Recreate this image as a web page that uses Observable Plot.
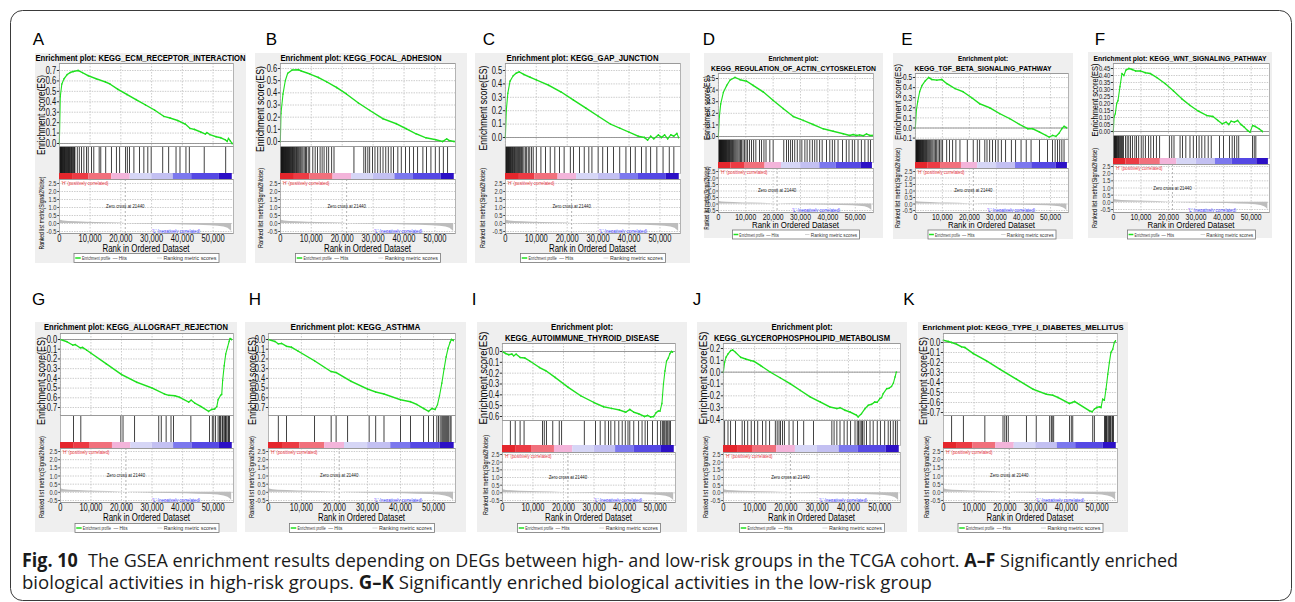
<!DOCTYPE html>
<html><head><meta charset="utf-8">
<script src="https://cdn.jsdelivr.net/npm/d3@7"></script>
<script src="https://cdn.jsdelivr.net/npm/@observablehq/plot@0.6"></script>
<style>
html,body{margin:0;padding:0;background:#fff;}
body{width:1295px;height:602px;position:relative;overflow:hidden;}
.box{position:absolute;background:#efefef;}
#overlay{position:absolute;left:0;top:0;pointer-events:none;}
</style></head><body>
<div id="bg"></div><div id="plots"></div>
<svg id="overlay" width="1295" height="602"></svg>
<script>
// ---------------- DATA ----------------
const panelIds = ["A","B","C","D","E","F","G","H","I","J","K"];
const pathways = ["KEGG_ECM_RECEPTOR_INTERACTION","KEGG_FOCAL_ADHESION","KEGG_GAP_JUNCTION",
  "KEGG_REGULATION_OF_ACTIN_CYTOSKELETON","KEGG_TGF_BETA_SIGNALING_PATHWAY","KEGG_WNT_SIGNALING_PATHWAY",
  "KEGG_ALLOGRAFT_REJECTION","KEGG_ASTHMA","KEGG_AUTOIMMUNE_THYROID_DISEASE",
  "KEGG_GLYCEROPHOSPHOLIPID_METABOLISM","KEGG_TYPE_I_DIABETES_MELLITUS"];
const twoLineTitles = ["D","E","I","J"];
const rankTicks = [0,10000,20000,30000,40000,50000];
const metricTicks = [2.5,2.0,1.5,1.0,0.5,0.0,-0.5];
const zeroCross = 21440;
const zeroCrossLabel = "Zero cross at 21440";
const posLabel = "'H' (positively correlated)";
const negLabel = "'L' (negatively correlated)";
const legendLabels = ["Enrichment profile","— Hits","Ranking metric scores"];
const esAxisTitle = "Enrichment score(ES)";
const metricAxisTitle = "Ranked list metric(Signal2Noise)";
const rankAxisTitle = "Rank in Ordered Dataset";

const esTicksA = [0,0.1,0.2,0.3,0.4,0.5,0.6,0.7];
const esTicksB = [0,0.1,0.2,0.3,0.4,0.5,0.6];
const esTicksC = [0,0.1,0.2,0.3,0.4,0.5];
const esTicksD = [0,0.1,0.2,0.3,0.4,0.5];
const esTicksE = [-0.1,0,0.1,0.2,0.3,0.4,0.5];
const esTicksF = [0,0.05,0.1,0.15,0.2,0.25,0.3,0.35,0.4,0.45];
const esTicksG = [-0.7,-0.6,-0.5,-0.4,-0.3,-0.2,-0.1,0];
const esTicksH = [-0.7,-0.6,-0.5,-0.4,-0.3,-0.2,-0.1,0];
const esTicksI = [-0.6,-0.5,-0.4,-0.3,-0.2,-0.1,0];
const esTicksJ = [-0.4,-0.3,-0.2,-0.1,0,0.1,0.2];
const esTicksK = [-0.7,-0.6,-0.5,-0.4,-0.3,-0.2,-0.1,0];

// running enrichment score curves [rank, ES]
const esA = [[0,0],[300,0.45],[800,0.57],[1500,0.62],[2500,0.66],[3500,0.68],[4500,0.69],[6100,0.70],[7500,0.68],[9400,0.65],[12000,0.62],[15000,0.59],[16500,0.57],[19000,0.52],[22000,0.47],[25000,0.42],[28000,0.37],[31000,0.32],[34000,0.26],[36000,0.245],[38500,0.22],[41000,0.185],[42500,0.145],[44000,0.135],[46000,0.11],[47500,0.09],[48000,0.105],[49000,0.085],[51000,0.065],[52500,0.055],[54000,0.035],[54600,0.02],[55000,0.05],[55600,0.025],[56200,0.0]];
const esB = [[0,0],[200,0.23],[850,0.39],[1600,0.5],[2350,0.56],[3750,0.587],[5900,0.59],[6750,0.58],[9600,0.554],[12300,0.526],[15000,0.49],[18200,0.444],[21400,0.39],[25200,0.317],[28900,0.256],[33200,0.187],[37500,0.146],[40700,0.105],[43900,0.063],[47100,0.03],[50300,0.014],[52500,0.0],[53800,0.022],[54600,0.008],[56200,0.0]];
const esC = [[0,0],[300,0.2],[800,0.33],[1500,0.42],[2500,0.46],[3500,0.48],[4500,0.49],[6000,0.47],[8000,0.45],[10000,0.43],[14000,0.39],[18000,0.34],[22000,0.28],[26000,0.22],[30000,0.16],[34000,0.1],[37000,0.07],[40000,0.04],[43000,0.01],[45000,0.0],[46000,-0.02],[47000,0.01],[48000,-0.01],[49500,0.02],[50500,0.0],[51500,0.02],[52500,-0.01],[53500,0.02],[54500,0.01],[55500,0.03],[56000,0.0]];
const esD = [[0,0],[365,0.17],[850,0.28],[1820,0.38],[3040,0.44],[4250,0.486],[6075,0.51],[7900,0.49],[10300,0.477],[12750,0.44],[16400,0.384],[20000,0.312],[23700,0.24],[27300,0.173],[31000,0.139],[34600,0.104],[38300,0.066],[41900,0.046],[45600,0.023],[48000,0.009],[49200,0.017],[50400,0.009],[51600,0.014],[52900,0.006],[54100,0.023],[55300,0.009],[56200,0.009]];
const esE = [[0,0],[370,0.175],[856,0.26],[1590,0.36],[2450,0.42],[3670,0.467],[4900,0.5],[6100,0.48],[7950,0.474],[9780,0.48],[11600,0.44],[14700,0.39],[17700,0.358],[20800,0.30],[23800,0.24],[27500,0.2],[31200,0.142],[34900,0.093],[38500,0.036],[41600,-0.007],[43400,-0.007],[45900,-0.04],[48300,-0.073],[49500,-0.09],[50800,-0.073],[52000,-0.083],[53200,-0.05],[54200,-0.007],[55000,0.017],[55900,0.003]];
const esF = [[0,0],[240,0.103],[720,0.127],[1200,0.2],[1680,0.22],[2400,0.32],[3110,0.414],[3830,0.40],[4550,0.438],[5630,0.45],[6820,0.443],[8020,0.433],[9800,0.433],[11600,0.42],[13400,0.414],[15800,0.385],[18800,0.342],[21800,0.29],[24800,0.234],[27800,0.187],[30800,0.146],[33800,0.115],[36100,0.108],[37900,0.079],[39500,0.055],[40900,0.067],[41900,0.05],[42700,0.074],[43900,0.067],[45100,0.079],[46300,0.05],[47500,0.031],[48700,0.007],[49600,-0.005],[50500,0.043],[51500,0.036],[52900,0.019],[54100,0.0]];
const esG = [[0,0],[2200,-0.024],[4100,-0.058],[4900,-0.052],[6500,-0.086],[7300,-0.082],[8600,-0.11],[10000,-0.14],[15000,-0.25],[20000,-0.36],[25000,-0.44],[30000,-0.50],[34000,-0.56],[35500,-0.575],[37500,-0.58],[39000,-0.595],[42000,-0.645],[42800,-0.625],[44000,-0.655],[46000,-0.69],[48500,-0.74],[49500,-0.72],[50500,-0.715],[51200,-0.69],[51600,-0.62],[52400,-0.575],[52800,-0.565],[53100,-0.42],[53600,-0.27],[54100,-0.15],[54700,-0.08],[55200,-0.02],[55500,0.01],[56000,0.0]];
const esH = [[0,0],[2000,-0.02],[3000,-0.045],[4000,-0.04],[5500,-0.07],[7000,-0.08],[9000,-0.12],[14000,-0.22],[19000,-0.33],[20500,-0.34],[25000,-0.43],[30000,-0.51],[32500,-0.54],[35000,-0.56],[40000,-0.62],[43000,-0.64],[45000,-0.67],[47000,-0.71],[48500,-0.74],[49500,-0.71],[50500,-0.72],[51200,-0.67],[51800,-0.58],[52500,-0.45],[53200,-0.3],[53800,-0.18],[54400,-0.09],[55000,-0.03],[55400,0.0],[56000,-0.01]];
const esI = [[0,0],[1050,-0.018],[2100,-0.03],[3150,-0.024],[3700,-0.04],[4500,-0.024],[5800,-0.055],[7350,-0.06],[8900,-0.086],[12100,-0.147],[14200,-0.177],[17300,-0.24],[21500,-0.33],[25700,-0.41],[29900,-0.47],[33100,-0.51],[35700,-0.525],[38300,-0.54],[40400,-0.56],[41700,-0.535],[43000,-0.56],[44600,-0.575],[46500,-0.6],[47500,-0.59],[48500,-0.605],[49500,-0.6],[50300,-0.565],[51000,-0.55],[51600,-0.55],[52200,-0.48],[52700,-0.3],[53200,-0.18],[53700,-0.09],[54300,-0.06],[54800,-0.02],[55300,0.0],[55700,-0.005]];
const esJ = [[0,0],[420,0.084],[850,0.126],[1480,0.154],[2330,0.182],[2970,0.188],[3900,0.168],[5500,0.126],[7100,0.112],[8700,0.098],[9750,0.092],[11900,0.056],[15000,0.0],[18200,-0.048],[21400,-0.098],[24600,-0.154],[27800,-0.21],[31000,-0.252],[34100,-0.294],[36300,-0.308],[37300,-0.3],[38900,-0.322],[40500,-0.336],[42600,-0.364],[43100,-0.378],[44200,-0.35],[45300,-0.308],[46300,-0.28],[47400,-0.272],[48400,-0.252],[49200,-0.255],[50000,-0.224],[50600,-0.215],[51100,-0.182],[52200,-0.14],[53000,-0.135],[53800,-0.12],[54400,-0.09],[54900,-0.04],[55300,0.0]];
const esK = [[0,0.023],[1600,0.01],[2700,0.0],[4300,-0.017],[5900,-0.043],[7000,-0.05],[9700,-0.11],[14000,-0.183],[18400,-0.267],[23800,-0.367],[29200,-0.467],[33500,-0.517],[35600,-0.527],[37300,-0.55],[41000,-0.61],[41900,-0.6],[42700,-0.59],[47500,-0.683],[48400,-0.693],[49100,-0.667],[49900,-0.65],[50800,-0.643],[51300,-0.65],[51800,-0.567],[52400,-0.577],[52900,-0.467],[53500,-0.317],[54000,-0.2],[54500,-0.1],[55100,-0.067],[55600,0.0],[56000,0.017]];

// gene-set hit positions (rank)
const hitsA = [60,180,300,420,560,690,800,980,1120,1260,1430,1580,1720,1900,2080,2230,2410,2600,2790,2950,3150,3320,3560,3780,3950,4180,4400,4650,4900,5070,5820,6470,7220,7980,8840,9380,10460,11210,12940,13480,15090,16920,18540,19620,21560,22100,22850,24250,26090,27490,28780,29860,33630,35570,37950,39240,41180,42260,47110,54120];
const hitsB = [40,150,260,380,490,620,730,870,990,1130,1260,1400,1550,1690,1840,1980,2150,2300,2470,2650,2800,2980,3150,3340,3520,3700,3900,4080,4300,4520,4750,5000,5230,5480,5750,6000,6300,6600,6950,7300,7700,8100,8500,9000,9500,10500,11250,12000,12850,13500,14140,15000,15640,16600,17350,23800,27000,27600,28300,28900,29800,30600,31500,32300,33200,34100,34900,35800,36600,38000,39100,40500,41800,43100,44400,46100,47300,48700,50100,51400,52700,54100];
const hitsC = [80,200,330,470,600,760,900,1050,1210,1380,1560,1720,1900,2100,2300,2520,2740,2960,3200,3450,3700,3980,4250,4550,4850,5200,5600,6000,6450,6900,7400,7900,8500,9000,10000,11500,13000,14500,16000,17500,19000,21000,22000,24000,25500,27000,28000,30000,31500,33000,35000,37000,39000,40500,42000,44000,45500,47000,49000,51000,53000,54500];
const hitsD = [50,160,280,400,520,650,780,900,1040,1180,1320,1470,1620,1780,1940,2100,2280,2460,2640,2830,3020,3220,3430,3650,3870,4100,4340,4600,4870,5150,5450,5760,6100,6450,6820,7200,7620,8050,8500,9000,9500,10100,10700,11400,12100,12900,13700,15000,15800,16650,17400,18800,20000,23900,24900,25600,26400,27100,27900,28800,29800,30500,31600,32400,33400,34300,35200,36000,37000,37900,39500,40700,41600,42500,43700,45300,46700,47700,48900,49800,51000,52200,53500,54700,55600];
const hitsE = [40,140,250,370,490,610,740,870,1010,1160,1310,1470,1640,1820,2000,2200,2400,2610,2830,3060,3300,3550,3810,4080,4370,4670,4990,5330,5700,6100,6500,6950,7400,7900,8400,8950,9500,10100,11600,12600,13800,15000,16500,19200,21400,22900,23800,25700,26500,27500,28500,29700,30600,31800,33400,35500,37100,39100,41000,42800,45900,48900,50700,51700,52600,53400,54200,55000];
const hitsF = [60,200,350,500,660,820,1000,1180,1380,1600,1830,2080,2350,2650,2950,3300,3700,4400,5000,5600,6200,6900,7800,8400,9200,10100,10800,11600,12800,13600,14600,15600,16800,20300,21200,22000,24200,25100,26300,27800,29000,30200,31100,32100,33200,34400,35500,38500,40000,42100,43100,43900,44800,45500,50500,51100,51700];
const hitsG = [4300,6700,19800,20500,24300,32200,33000,34600,36200,37000,42700,48800,49700,50200,50800,51600,52100,52400,52900,53100,53500,53800,54000,54200,54500,54900,55100,55300];
const hitsH = [3000,5500,14000,19000,20500,24000,30500,32500,35000,40000,43000,47000,48500,50000,51000,51500,52000,52500,52800,53100,53400,53700,54000,54300,54600,55000,55300];
const hitsI = [2600,4200,5800,7100,13100,13700,14400,16500,18600,19400,26800,30500,32000,33600,34700,35500,36800,38100,39200,40200,41100,41700,43000,44600,45700,46700,47500,49100,50700,51800,52300,52600,52900,53200,53600,53900,54200,54600,55000];
const hitsJ = [420,1480,2330,3900,6000,6800,7800,8900,10000,11000,12500,13600,14800,16600,17200,17800,18300,18900,19500,21000,22300,23700,25700,28800,34700,35400,36300,37300,38600,39600,40700,42100,42800,43200,43700,44100,44500,45000,45800,46900,47900,49200,50200,51600,52700,53400,54300,55000,55600];
const hitsK = [2700,6500,13500,19400,20000,20500,21100,27000,30200,34600,35100,35400,35900,41000,41600,42100,48600,49100,52400,52700,52900,53100,53500,53800,54000,54300,54500,54900,55100,55300];

// ranked list metric (shared by all panels) [rank, signal2noise]
const rankedMetric = [[0,0.26],[300,0.2],[1300,0.16],[3000,0.13],[5600,0.11],[9000,0.085],[12000,0.07],[16000,0.05],[19700,0.025],[21440,0],[23200,-0.015],[26000,-0.03],[30400,-0.05],[36000,-0.07],[41000,-0.09],[45000,-0.11],[49000,-0.14],[51600,-0.17],[53500,-0.22],[54800,-0.3],[55500,-0.4],[56000,-0.5]];
// colour bar segment boundaries (rank)
const barBreaks = [0,4500,9500,17000,23000,30000,37000,43000,52000,56200];

const esCurves = [esA,esB,esC,esD,esE,esF,esG,esH,esI,esJ,esK];
const hitLists = [hitsA,hitsB,hitsC,hitsD,hitsE,hitsF,hitsG,hitsH,hitsI,hitsJ,hitsK];
const esTickLists = [esTicksA,esTicksB,esTicksC,esTicksD,esTicksE,esTicksF,esTicksG,esTicksH,esTicksI,esTicksJ,esTicksK];

// ---------------- STYLE / LAYOUT ----------------
const barColors = ["#e4262c","#ec3b44","#f1707c","#f3b4da","#d6d6f6","#c3c0f2","#7c78ee","#5548e4","#2c10c6"];
const SANS = "'Liberation Sans', Arial, Helvetica, sans-serif";
const GREEN = "#1fe01f";
const S = 0.72;          // horizontal squash of the plot graphics
const XMAX = 56600;
const ML = 28, MR = 1;   // real px margins of each plot svg

const rowA = {es:[63,146], hits:[146,173], cbar:[173,179], met:[179,233], metRef:[[2.5,183],[-0.5,231]], axisY:248, legendTop:253, xf:10.5, af:10.5};
const rowD = {es:[73,139], hits:[139,162], cbar:[162,168], met:[168,212], metRef:[[2.5,171],[-0.5,210]], axisY:225, legendTop:229.5, xf:9.5, af:9};
const rowG = {es:[333,415], hits:[415,442], cbar:[442,448], met:[448,502], metRef:[[2.5,451],[-0.5,500]], axisY:517, legendTop:523, xf:10.5, af:10.5};
const rowI = {es:[343,420], hits:[420,445], cbar:[445,452], met:[452,502], metRef:[[2.5,454],[-0.5,500]], axisY:517, legendTop:523, xf:10.5, af:10.5};
const layout = {
 A:{...rowA, box:[35,53,211,210], letter:[38.5,39], px:[59,233], titleY:[58], titleLen:[210], ts:8.5, esRef:[[0.7,70],[0,143]], legendW:145, yT:[41,115,80,11], mT:[41,213,73], tf:10.5},
 B:{...rowA, box:[255,53,212,210], letter:[271.5,39], px:[280,455], titleY:[58], titleLen:[161], ts:8.5, esRef:[[0.6,68],[0,141]], legendW:145, yT:[260,109,86,11], mT:[260,208,80], tf:10.5},
 C:{...rowA, box:[475,53,215,210], letter:[489,39], px:[505,680], titleY:[58], titleLen:[152], ts:8.5, esRef:[[0.5,70],[0,137]], legendW:145, yT:[483,108,85,11], mT:[482,208,80], tf:10.5},
 D:{...rowD, box:[704,53,179,185], letter:[709,39], px:[718,873], titleY:[58,68], titleLen:[50,165], ts:8, esRef:[[0.5,78],[0,136]], legendW:127, yT:[706.5,108,64,8.5], mT:[706.5,198,63], tf:8.5},
 E:{...rowD, box:[893,53,180,186], letter:[907,39], px:[915,1068], titleY:[58,68], titleLen:[50,137], ts:8, esRef:[[0.5,77],[-0.1,137.6]], legendW:128, yT:[897,102,76,9.5], mT:[897,188,80], tf:9},
 F:{...rowD, es:[63,135], hits:[135,158], cbar:[158,164], met:[164,212], metRef:[[2.5,166],[-0.5,209]], box:[1088,52,184,186], letter:[1100,39], px:[1113,1269], titleY:[58], titleLen:[173], ts:7, esRef:[[0.45,68],[0,131]], legendW:128, yT:[1094,100,73,9.5], mT:[1094,188,80], tf:8},
 G:{...rowG, box:[35,322,202,210], letter:[38.5,299], px:[60,233], titleY:[327], titleLen:[184], ts:8.5, esRef:[[0,339],[-0.7,407]], legendW:144, yT:[41,381,88,11], mT:[41,477,82], tf:10.5},
 H:{...rowG, box:[245,322,221,210], letter:[255,299], px:[268,455], titleY:[327], titleLen:[130], ts:8.5, esRef:[[0,339],[-0.7,407]], legendW:145, yT:[252,381,88,11], mT:[251,477,82], tf:10.5},
 I:{...rowI, box:[477,322,210,210], letter:[474,299], px:[502,675], titleY:[327,338], titleLen:[62,154], ts:8.5, esRef:[[0,351],[-0.6,416]], legendW:143, yT:[483,378,93,11], mT:[485,475,80], tf:10.5},
 J:{...rowI, box:[697,322,210,210], letter:[697,299], px:[723,900], titleY:[327,338], titleLen:[61,176], ts:8.5, esRef:[[0.2,348],[-0.4,419]], legendW:145, yT:[703,378,93,11], mT:[705,477,82], tf:10.5},
 K:{...rowG, box:[918,322,210,210], letter:[909,299], px:[943,1117], titleY:[327], titleLen:[201], ts:8, esRef:[[0,342],[-0.7,412]], legendW:145, yT:[923,381,88,11], mT:[926,477,82], tf:10.5}
};

// ---------------- BUILD ----------------
const bgEl = document.getElementById("bg");
const plotsEl = document.getElementById("plots");
const ov = d3.select("#overlay");

function domainFrom(ref, top, bot) {
  const [[v1, y1], [v2, y2]] = ref;
  const k = (y2 - y1) / (v2 - v1);
  return [v1 + (bot - y1) / k, v1 + (top - y1) / k];
}
function mount(svg, left, top, w, h) {
  svg.setAttribute("preserveAspectRatio", "none");
  svg.setAttribute("width", w);
  svg.setAttribute("height", h);
  Object.assign(svg.style, {position:"absolute", left:left+"px", top:top+"px", width:w+"px", height:h+"px",
    maxWidth:"none", overflow:"visible", background:"transparent"});
  plotsEl.appendChild(svg);
}
function baseOpts(L, h) {
  const w = L.px[1] - L.px[0] + ML + MR;
  return {w, opts:{width:w/S, height:h, marginLeft:ML/S, marginRight:MR/S, marginTop:0, marginBottom:0,
    style:{background:"transparent", overflow:"visible", fontFamily:SANS, color:"#111"}}};
}
function txt(str, x, y, o = {}) {
  const t = ov.append("text").attr("x", x).attr("y", y).text(str)
    .attr("font-size", o.size || 10).attr("font-family", o.family || SANS)
    .attr("text-anchor", o.anchor || "middle").attr("dominant-baseline", o.baseline || "central")
    .attr("fill", o.color || "#000");
  if (o.weight) t.attr("font-weight", o.weight);
  if (o.len) t.attr("textLength", o.len).attr("lengthAdjust", "spacingAndGlyphs");
  if (o.rotate) t.attr("transform", `rotate(${o.rotate},${x},${y})`);
  return t;
}

const segs = d3.pairs(barBreaks).map(([a, b], i) => ({a, b, c: barColors[i]}));

panelIds.forEach((id, i) => {
  const L = layout[id];
  const es = esCurves[i], hits = hitLists[i], esT = esTickLists[i];
  const fmt = id === "F" ? (d => d.toFixed(2)) : (d => d.toFixed(1));

  // panel background
  const box = document.createElement("div");
  box.className = "box";
  Object.assign(box.style, {left:L.box[0]+"px", top:L.box[1]+"px", width:L.box[2]+"px", height:L.box[3]+"px"});
  bgEl.appendChild(box);

  // ES plot
  const esHgt = L.es[1] - L.es[0];
  let b = baseOpts(L, esHgt);
  const esSvg = Plot.plot({...b.opts,
    x:{domain:[0, XMAX], axis:null},
    y:{domain:domainFrom(L.esRef, L.es[0], L.es[1]), axis:null},
    marks:[
      Plot.frame({fill:"#fff", stroke:"none"}),
      Plot.gridX(rankTicks, {stroke:"#c4c4c4", strokeOpacity:1, strokeDasharray:"1.5,1.5"}),
      Plot.gridY(esT, {stroke:"#c4c4c4", strokeOpacity:1, strokeDasharray:"2,1.5"}),
      Plot.ruleY([0], {stroke:"#8c8c8c", strokeWidth:1}),
      Plot.line(es, {x:d => d[0], y:d => d[1], stroke:GREEN, strokeWidth:1.5}),
      Plot.dot(es, {x:d => d[0], y:d => d[1], r:0.9, fill:GREEN, stroke:null}),
      Plot.axisY(esT, {tickFormat:fmt, tickSize:3, tickPadding:1.5, fontSize:L.tf}),
      Plot.frame({stroke:"#9a9a9a"})
    ]});
  mount(esSvg, L.px[0] - ML, L.es[0], b.w, esHgt);

  // hits
  const hHgt = L.hits[1] - L.hits[0];
  b = baseOpts(L, hHgt);
  const hitSvg = Plot.plot({...b.opts,
    x:{domain:[0, XMAX], axis:null},
    marks:[
      Plot.frame({fill:"#fff", stroke:"none"}),
      Plot.ruleX(hits, {x:d => d, stroke:"#111", strokeWidth:1.1}),
      Plot.frame({stroke:"#9a9a9a"})
    ]});
  mount(hitSvg, L.px[0] - ML, L.hits[0], b.w, hHgt);

  // colour bar
  const cHgt = L.cbar[1] - L.cbar[0];
  b = baseOpts(L, cHgt);
  const barSvg = Plot.plot({...b.opts,
    x:{domain:[0, XMAX], axis:null},
    color:{type:"identity"},
    marks:[
      Plot.frame({fill:"#fff", stroke:"none"}),
      Plot.barX(segs, {x1:"a", x2:"b", fill:"c"})
    ]});
  mount(barSvg, L.px[0] - ML, L.cbar[0], b.w, cHgt);

  // ranked metric
  const MB = 14;
  const mHgt = L.met[1] - L.met[0];
  b = baseOpts(L, mHgt + MB);
  const metSvg = Plot.plot({...b.opts, marginBottom:MB,
    x:{domain:[0, XMAX], axis:null},
    y:{domain:domainFrom(L.metRef, L.met[0], L.met[1]), axis:null},
    marks:[
      Plot.frame({fill:"#fff", stroke:"none"}),
      Plot.gridX(rankTicks, {stroke:"#c4c4c4", strokeOpacity:1, strokeDasharray:"1.5,1.5"}),
      Plot.gridY(metricTicks, {stroke:"#c4c4c4", strokeOpacity:1, strokeDasharray:"2,1.5"}),
      Plot.areaY(rankedMetric, {x:d => d[0], y:d => d[1], fill:"#bdbdbd"}),
      Plot.ruleX([zeroCross], {stroke:"#a8a8a8", strokeDasharray:"2,2"}),
      Plot.text([zeroCrossLabel], {x:[zeroCross], text:d => d, frameAnchor:"middle", fontSize:6, fill:"#222"}),
      Plot.text([posLabel], {text:d => d, frameAnchor:"top-left", dx:3, dy:1, fontSize:6, fill:"#e8323c"}),
      Plot.text([negLabel], {text:d => d, frameAnchor:"bottom-right", dx:-46, dy:-1, fontSize:6, fill:"#3a3aff"}),
      Plot.axisY(metricTicks, {tickFormat:d => d.toFixed(1), tickSize:2.5, tickPadding:1.5, fontSize:8, color:"#333"}),
      Plot.axisX(rankTicks, {tickFormat:d3.format(","), tickSize:0, tickPadding:1, fontSize:L.xf}),
      Plot.frame({stroke:"#9a9a9a"})
    ]});
  mount(metSvg, L.px[0] - ML, L.met[0], b.w, mHgt + MB);

  // texts
  const bx = L.box[0] + L.box[2] / 2;
  const pcx = (L.px[0] + L.px[1]) / 2;
  txt(id, L.letter[0], L.letter[1], {size:17});
  if (twoLineTitles.includes(id)) {
    txt("Enrichment plot:", bx, L.titleY[0], {size:L.ts, weight:"bold", len:L.titleLen[0]});
    txt(pathways[i], bx, L.titleY[1], {size:L.ts, weight:"bold", len:L.titleLen[1]});
  } else {
    txt("Enrichment plot: " + pathways[i], bx, L.titleY[0], {size:L.ts, weight:"bold", len:L.titleLen[0]});
  }
  txt(esAxisTitle, L.yT[0], L.yT[1], {size:L.yT[3], rotate:-90, len:L.yT[2]});
  txt(metricAxisTitle, L.mT[0], L.mT[1], {size:6.5, rotate:-90, len:L.mT[2]});
  txt(rankAxisTitle, pcx, L.axisY, {size:L.af, len:87});

  // legend
  const W = L.legendW, lx = pcx - W / 2, ly = L.legendTop, lh = 9, my = ly + lh / 2;
  ov.append("rect").attr("x", lx + 0.5).attr("y", ly + 0.5).attr("width", W).attr("height", lh)
    .attr("fill", "#fff").attr("stroke", "#777").attr("stroke-width", 0.8);
  ov.append("line").attr("x1", lx + 0.012 * W).attr("x2", lx + 0.05 * W).attr("y1", my + 0.5).attr("y2", my + 0.5)
    .attr("stroke", GREEN).attr("stroke-width", 1.5);
  txt(legendLabels[0], lx + 0.058 * W, my + 0.5, {size:5.5, anchor:"start", len:0.195 * W, color:"#333"});
  txt(legendLabels[1], lx + 0.27 * W, my + 0.5, {size:5.5, anchor:"start", len:0.098 * W, color:"#333"});
  ov.append("line").attr("x1", lx + 0.575 * W).attr("x2", lx + 0.61 * W).attr("y1", my + 0.5).attr("y2", my + 0.5)
    .attr("stroke", "#d4d4d4").attr("stroke-width", 1);
  txt(legendLabels[2], lx + 0.62 * W, my + 0.5, {size:5.5, anchor:"start", len:0.366 * W, color:"#333"});
});

// outer rounded frame
ov.append("rect").attr("x", 10.5).attr("y", 10.5).attr("width", 1281).attr("height", 590).attr("rx", 12)
  .attr("fill", "none").attr("stroke", "#3a3a3a").attr("stroke-width", 1);

// caption
const CAP = "'Open Sans', 'Noto Sans', sans-serif";
const cap1 = ov.append("text").attr("x", 22).attr("y", 567).attr("font-family", CAP).attr("font-size", 19)
  .attr("fill", "#1a1a1a").attr("textLength", 1156).attr("lengthAdjust", "spacingAndGlyphs");
cap1.append("tspan").attr("font-weight", "bold").text("Fig. 10");
cap1.append("tspan").attr("dx", 6).text(" The GSEA enrichment results depending on DEGs between high- and low-risk groups in the TCGA cohort. ");
cap1.append("tspan").attr("font-weight", "bold").text("A–F");
cap1.append("tspan").text(" Significantly enriched");
const cap2 = ov.append("text").attr("x", 22).attr("y", 589).attr("font-family", CAP).attr("font-size", 19)
  .attr("fill", "#1a1a1a").attr("textLength", 910).attr("lengthAdjust", "spacingAndGlyphs");
cap2.append("tspan").text("biological activities in high-risk groups. ");
cap2.append("tspan").attr("font-weight", "bold").text("G–K");
cap2.append("tspan").text(" Significantly enriched biological activities in the low-risk group");
</script></body></html>
